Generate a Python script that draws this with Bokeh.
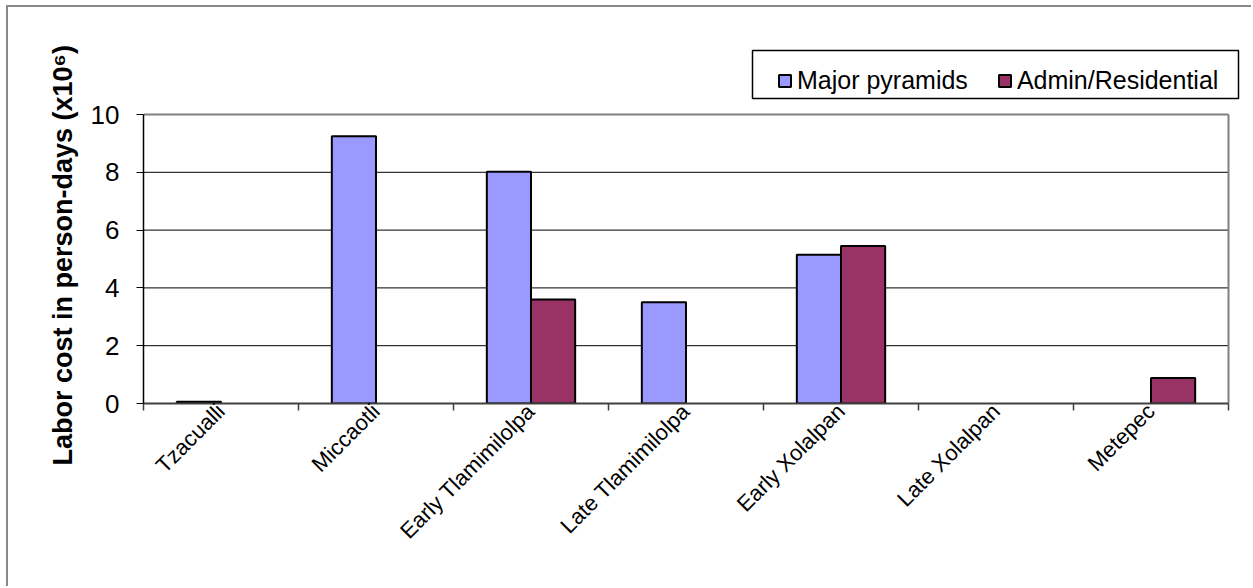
import math
from bokeh.plotting import figure
from bokeh.models import (Range1d, FixedTicker, Legend, LegendItem, ColumnDataSource,
                          BoxAnnotation, Title)
from bokeh.transform import dodge
from bokeh.embed import file_html
from bokeh.resources import INLINE

# ---- data ----
categories = ["Tzacualli", "Miccaotli", "Early Tlamimilolpa", "Late Tlamimilolpa",
              "Early Xolalpan", "Late Xolalpan", "Metepec"]
major_pyramids = [0.06, 9.25, 8.02, 3.5, 5.15, None, None]
admin_residential = [None, None, 3.6, None, 5.45, None, 0.88]
y_ticks = [0, 2, 4, 6, 8, 10]
series_names = ["Major pyramids", "Admin/Residential"]
series_colors = ["#9999FF", "#993366"]
y_title = "Labor cost in person-days (x10\u2076)"

FONT = "Liberation Sans"
nan = float("nan")
n = len(categories)
x_pos = [i + 0.5 for i in range(n)]
src = ColumnDataSource(dict(
    x=x_pos,
    major=[nan if v is None else v for v in major_pyramids],
    admin=[nan if v is None else v for v in admin_residential],
))
grid_vals = y_ticks[1:-1]

# ---- layout (page pixels) ----
OX, OY = 8, 7                 # canvas offset inside the CSS outer frame
AREA_L, AREA_R = 143, 1228    # plot area left/right
AREA_T, AREA_B = 114, 403     # plot area top/bottom
FRAME_T, FRAME_R = 46, 1240   # drawing frame extended to hold the legend
ymax = y_ticks[-1]
y_end = ymax * (AREA_B - FRAME_T) / (AREA_B - AREA_T)
x_end = n * (FRAME_R - AREA_L) / (AREA_R - AREA_L)

p = figure(width=1253 - OX, height=588 - OY,
           x_range=Range1d(0, x_end), y_range=Range1d(y_ticks[0], y_end),
           output_backend="svg", toolbar_location=None,
           min_border_left=AREA_L - OX, min_border_right=1253 - FRAME_R,
           min_border_top=FRAME_T - OY, min_border_bottom=588 - AREA_B)
p.styles = {"border-left": "2px solid #888888", "border-top": "2px solid #888888",
            "margin-left": "6px", "margin-top": "5px"}
p.background_fill_color = "white"
p.border_fill_color = "white"
p.outline_line_color = None

# grid lines (only across the plot area)
p.xgrid.visible = False
p.ygrid.visible = False
p.segment(x0=[0] * len(grid_vals), x1=[n] * len(grid_vals), y0=grid_vals, y1=grid_vals,
          line_color="black", line_width=1)

# plot-area border (top and right, grey)
p.segment(x0=[0, n], y0=[ymax, 0], x1=[n, n], y1=[ymax, ymax],
          line_color="#808080", line_width=2)

bw = 0.285
r1 = p.vbar(x=dodge("x", -bw / 2, range=p.x_range), top="major", bottom=0, width=bw,
            source=src, fill_color=series_colors[0], line_color="black", line_width=2)
r2 = p.vbar(x=dodge("x", bw / 2, range=p.x_range), top="admin", bottom=0, width=bw,
            source=src, fill_color=series_colors[1], line_color="black", line_width=2)

# y axis
ya = p.yaxis[0]
ya.ticker = FixedTicker(ticks=y_ticks)
ya.bounds = (y_ticks[0], ymax)
ya.major_label_text_font = FONT
ya.major_label_text_font_size = "26px"
ya.major_label_text_color = "black"
ya.major_tick_out = 7
ya.major_tick_in = 0
ya.minor_tick_out = 0
ya.minor_tick_in = 0
ya.major_tick_line_color = "black"
ya.axis_line_color = "black"
ya.axis_line_width = 1.5
ya.major_label_standoff = 17

# y axis title, starting a little below the plot-area bottom as in the original
ytitle = Title(text=y_title, align="left", offset=-(465 - AREA_B), standoff=20,
               text_font=FONT, text_font_size="27px", text_font_style="bold",
               text_color="black")
p.add_layout(ytitle, "left")

# x axis: labels at centres, tick marks at boundaries
xa = p.xaxis[0]
xa.ticker = FixedTicker(ticks=x_pos, minor_ticks=list(range(n + 1)))
xa.bounds = (0, n)
xa.major_label_overrides = {x: c for x, c in zip(x_pos, categories)}
xa.major_label_orientation = math.pi / 4
xa.major_label_text_font = FONT
xa.major_label_text_font_size = "22px"
xa.major_label_text_color = "black"
xa.major_label_standoff = -3
xa.major_tick_out = 0
xa.major_tick_in = 0
xa.minor_tick_out = 7
xa.minor_tick_in = 0
xa.minor_tick_line_color = "#404040"
xa.minor_tick_line_width = 1.5
xa.axis_line_color = "#404040"
xa.axis_line_width = 2

# legend (inside the extended frame, above the plot area)
legend = Legend(items=[LegendItem(label=series_names[0], renderers=[r1]),
                       LegendItem(label=series_names[1], renderers=[r2])],
                orientation="horizontal", location=(777 - AREA_L, AREA_B - 95),
                padding=10, spacing=29, margin=0,
                glyph_width=15, glyph_height=15, label_standoff=5,
                label_text_font=FONT, label_text_font_size="25px",
                label_text_color="black",
                border_line_color=None, background_fill_alpha=0)
p.add_layout(legend)

legend_box = BoxAnnotation(left=752 - AREA_L, right=1238 - AREA_L,
                           bottom=AREA_B - 98, top=AREA_B - 50,
                           left_units="screen", right_units="screen",
                           top_units="screen", bottom_units="screen",
                           fill_alpha=0, line_color="black", line_width=1.5,
                           line_alpha=1)
p.add_layout(legend_box)

open("out.html", "w").write(file_html(p, INLINE))
